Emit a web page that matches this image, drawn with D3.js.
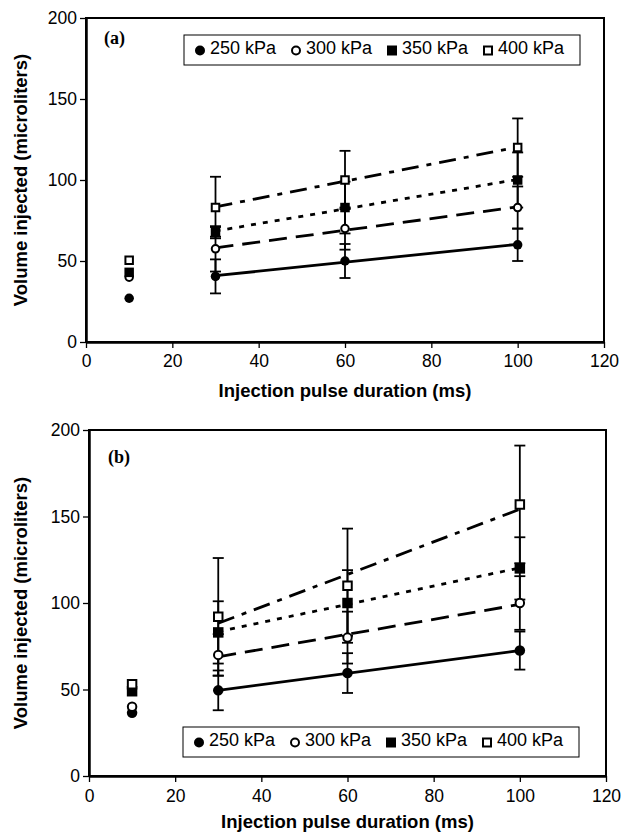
<!DOCTYPE html>
<html>
<head>
<meta charset="utf-8">
<script src="https://cdn.jsdelivr.net/npm/d3@7"></script>
<style>
  body { margin: 0; background: #fff; }
  svg { display: block; }
  text { font-family: "Liberation Sans", Arial, sans-serif; fill: #000; }
</style>
</head>
<body>
<script>
'use strict';

// injection pulse durations (ms), shared by both panels
const pulseMs = [10, 30, 60, 100];
const pressureLabels = ["250 kPa", "300 kPa", "350 kPa", "400 kPa"];
const xTickValues = [0, 20, 40, 60, 80, 100, 120];
const yTickValues = [0, 50, 100, 150, 200];

// panel (a): mean volume injected (microliters) and error half-widths
const volA250 = [27, 40.5, 50, 60];
const volA300 = [40, 57.5, 70, 83];
const volA350 = [43, 68, 83, 100];
const volA400 = [50.5, 83, 100, 120];
const errA250 = [0, 10.5, 10.5, 10];
const errA300 = [0, 14, 13, 13];
const errA350 = [0, 3, 16, 17];
const errA400 = [0, 19, 18, 18];

// panel (b)
const volB250 = [36.5, 49.5, 59.5, 72.5];
const volB300 = [40, 70, 80, 100];
const volB350 = [49, 83, 100, 120];
const volB400 = [53, 92, 110, 157];
const errB250 = [0, 11.5, 11.5, 11];
const errB300 = [0, 12, 15, 15.5];
const errB350 = [0, 18, 19, 18];
const errB400 = [0, 34, 33, 34];

(function() {

    // marker and line style per pressure
    const styles = [
        { shape: "circle", filled: true, dash: null },
        { shape: "circle", filled: false, dash: "18,9" },
        { shape: "square", filled: true, dash: "5,7" },
        { shape: "square", filled: false, dash: "17,8,5,8" }
    ];

    const svg = d3.select("body").append("svg")
        .attr("width", 623)
        .attr("height", 833);

    // panel (a)
    drawPanel({
        left: 86, right: 604, top: 18, bottom: 342,
        label: "(a)", labelX: 104, labelY: 44,
        legendX: 184, legendY: 35,
        tickPad: 7, titleY: 397, marker: 9.5,
        vols: [volA250, volA300, volA350, volA400],
        errs: [errA250, errA300, errA350, errA400]
    });

    // panel (b)
    drawPanel({
        left: 89, right: 606, top: 430, bottom: 776,
        label: "(b)", labelX: 108, labelY: 463,
        legendX: 183, legendY: 727,
        tickPad: 8, titleY: 828, marker: 10.5,
        vols: [volB250, volB300, volB350, volB400],
        errs: [errB250, errB300, errB350, errB400]
    });

    function drawPanel(p) {
        let x = d3.scaleLinear().domain([0, 120]).range([p.left, p.right]);
        let y = d3.scaleLinear().domain([0, 200]).range([p.bottom, p.top]);
        let g = svg.append("g");

        // plot frame
        g.append("rect")
            .attr("x", p.left)
            .attr("y", p.top)
            .attr("width", p.right - p.left)
            .attr("height", p.bottom - p.top)
            .attr("fill", "none")
            .attr("stroke", "#000")
            .attr("stroke-width", 2);

        // axes
        let xAxis = g.append("g")
            .attr("transform", "translate(0," + p.bottom + ")")
            .call(d3.axisBottom(x).tickValues(xTickValues).tickSize(6)
                .tickSizeOuter(0).tickPadding(p.tickPad));
        let yAxis = g.append("g")
            .attr("transform", "translate(" + p.left + ",0)")
            .call(d3.axisLeft(y).tickValues(yTickValues).tickSize(6)
                .tickSizeOuter(0).tickPadding(3));
        [xAxis, yAxis].forEach((a) => {
            a.select(".domain").attr("stroke-width", 2.5);
            a.selectAll(".tick line").attr("stroke-width", 1.3);
            a.selectAll(".tick text")
                .style("font-family", '"Liberation Sans", Arial, sans-serif')
                .style("font-size", "17.5px");
        });

        // axis titles
        g.append("text")
            .attr("x", (p.left + p.right) / 2)
            .attr("y", p.titleY)
            .attr("text-anchor", "middle")
            .style("font-size", "18.5px")
            .style("font-weight", "bold")
            .text("Injection pulse duration (ms)");

        g.append("text")
            .attr("transform", "translate(27," + (p.top + p.bottom) / 2 + ")rotate(-90)")
            .attr("text-anchor", "middle")
            .style("font-size", "18.5px")
            .style("font-weight", "bold")
            .text("Volume injected (microliters)");

        // panel letter
        g.append("text")
            .attr("x", p.labelX)
            .attr("y", p.labelY)
            .style("font-family", '"Liberation Serif", "Times New Roman", serif')
            .style("font-size", "18px")
            .style("font-weight", "bold")
            .text(p.label);

        // linear trendlines over 30-100 ms
        p.vols.forEach((vals, s) => {
            let pts = pulseMs.map((t, i) => [t, vals[i]]).filter((d) => d[0] >= 30);
            let fit = linearFit(pts);
            let ends = [30, 100].map((t) => [t, fit.a + fit.b * t]);
            g.append("path")
                .datum(ends)
                .attr("fill", "none")
                .attr("stroke", "#000")
                .attr("stroke-width", 2.8)
                .attr("stroke-dasharray", styles[s].dash)
                .attr("d", d3.line().x((d) => x(d[0])).y((d) => y(d[1])));
        });

        // error bars
        p.vols.forEach((vals, s) => {
            let rows = pulseMs.map((t, i) => ({ t: t, v: vals[i], e: p.errs[s][i] }))
                .filter((d) => d.e > 0);
            let eb = g.append("g").attr("stroke", "#000").attr("stroke-width", 1.8);
            eb.selectAll(".bar").data(rows).enter().append("line")
                .attr("x1", (d) => x(d.t)).attr("x2", (d) => x(d.t))
                .attr("y1", (d) => y(d.v - d.e)).attr("y2", (d) => y(d.v + d.e));
            rows.forEach((d) => {
                [d.v - d.e, d.v + d.e].forEach((v) => {
                    eb.append("line")
                        .attr("x1", x(d.t) - 5.5).attr("x2", x(d.t) + 5.5)
                        .attr("y1", y(v)).attr("y2", y(v));
                });
            });
        });

        // markers
        p.vols.forEach((vals, s) => {
            g.selectAll(".m" + s)
                .data(pulseMs.map((t, i) => [t, vals[i]]))
                .enter()
                .append("path")
                .attr("transform", (d) => "translate(" + x(d[0]) + "," + y(d[1]) + ")")
                .call(markerStyle, styles[s], p.marker);
        });

        // legend
        let lg = g.append("g").attr("transform", "translate(" + p.legendX + "," + p.legendY + ")");
        lg.append("rect")
            .attr("width", 396)
            .attr("height", 30)
            .attr("fill", "#fff")
            .attr("stroke", "#000")
            .attr("stroke-width", 1);
        pressureLabels.forEach((lab, s) => {
            lg.append("path")
                .attr("transform", "translate(" + (16 + s * 96) + ",15.5)")
                .call(markerStyle, styles[s], 10);
            lg.append("text")
                .attr("x", 26 + s * 96)
                .attr("y", 19)
                .style("font-size", "18px")
                .text(lab);
        });
    }

    // draw a marker symbol of given diameter / side
    function markerStyle(sel, st, size) {
        let open = !st.filled;
        let inner = open ? size - 2 : size;
        let area = st.shape === "circle" ? Math.PI * inner * inner / 4 : inner * inner;
        sel.attr("d", d3.symbol()
                .type(st.shape === "circle" ? d3.symbolCircle : d3.symbolSquare)
                .size(area)())
            .attr("fill", st.filled ? "#000" : "#fff")
            .attr("stroke", "#000")
            .attr("stroke-width", open ? 2 : 0);
    }

    // least squares fit, returns intercept a and slope b
    function linearFit(pts) {
        let mx = d3.mean(pts, (d) => d[0]);
        let my = d3.mean(pts, (d) => d[1]);
        let sxy = d3.sum(pts, (d) => (d[0] - mx) * (d[1] - my));
        let sxx = d3.sum(pts, (d) => (d[0] - mx) * (d[0] - mx));
        let b = sxy / sxx;
        return { a: my - b * mx, b: b };
    }

})();
</script>
</body>
</html>
